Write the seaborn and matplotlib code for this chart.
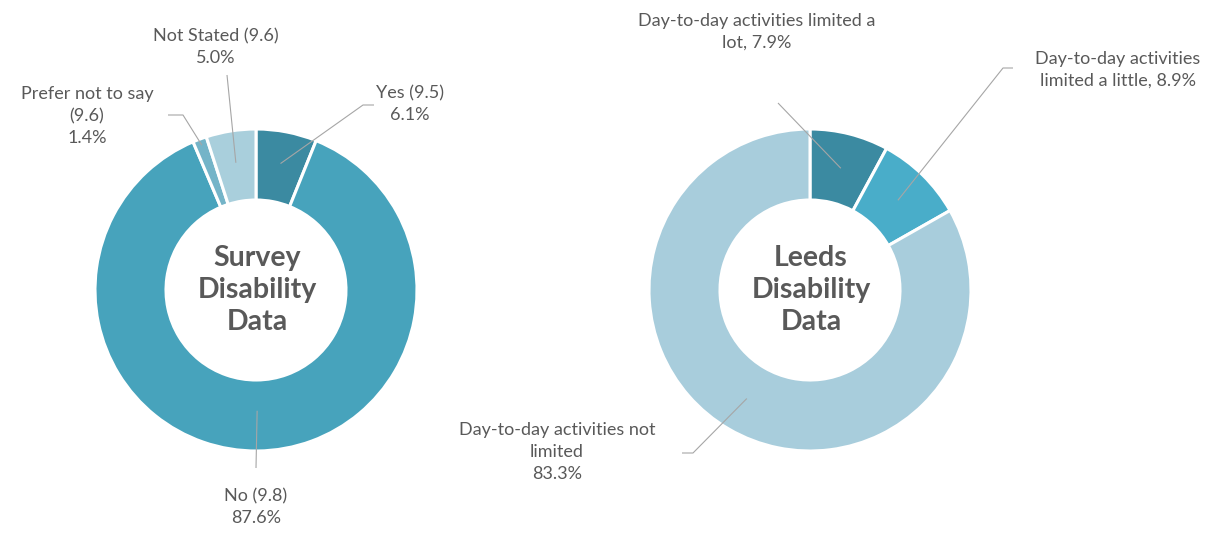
import numpy as np
import matplotlib
matplotlib.use("Agg")
import matplotlib.pyplot as plt
import seaborn as sns

# --- data -------------------------------------------------------------
survey_names = ["Yes (9.5)", "No (9.8)", "Prefer not to say\n(9.6)", "Not Stated (9.6)"]
survey_pct = [6.1, 87.6, 1.4, 5.0]

leeds_names = [
    "Day-to-day activities limited a\nlot, {}%",
    "Day-to-day activities\nlimited a little, {}%",
    "Day-to-day activities not\nlimited\n{}%",
]
leeds_pct = [7.9, 8.9, 83.3]

survey_title = "Survey\nDisability\nData"
leeds_title = "Leeds\nDisability\nData"

# --- style ------------------------------------------------------------
sns.set_theme(style="white")
plt.rcParams["font.family"] = ["Lato", "DejaVu Sans"]

survey_colors = ["#3b8aa1", "#47a3bc", "#74b4c8", "#a9cfdc"]
leeds_colors = ["#3b8aa1", "#49adc9", "#a8cddc"]
text_color = "#595959"
leader_color = "#a6a6a6"

W, H = 1222, 534
fig = plt.figure(figsize=(W / 100, H / 100), dpi=100)
ax = fig.add_axes([0, 0, 1, 1])


def P(x, y):
    """Pixel-style coordinates (origin top-left) to axes data coordinates."""
    return x, H - y


R_OUT = 161
RING = 71


def donut(center, values, colors):
    wedges, _ = ax.pie(
        values, colors=colors, startangle=90, counterclock=False,
        center=P(*center), radius=R_OUT, frame=True,
        wedgeprops=dict(width=RING, edgecolor="white", linewidth=2.2),
    )
    return wedges


def anchor(wedge, r_frac):
    mid = np.deg2rad((wedge.theta1 + wedge.theta2) / 2)
    cx, cy = wedge.center
    r = wedge.r * r_frac
    return cx + r * np.cos(mid), cy + r * np.sin(mid)


def leader(wedge, r_frac, path):
    pts = [anchor(wedge, r_frac)] + [P(*p) for p in path]
    xs, ys = zip(*pts)
    ax.plot(xs, ys, color=leader_color, lw=0.8, solid_capstyle="butt", zorder=5)


def label(x, y, s, **kw):
    ax.text(*P(x, y), s, ha="center", va="center", color=text_color,
            fontsize=13, linespacing=1.45, zorder=6, **kw)


# --- survey donut ------------------------------------------------------
sw = donut((256, 290), survey_pct, survey_colors)
ax.text(*P(257, 290), survey_title, ha="center", va="center", color=text_color,
        fontsize=20.5, fontweight="bold", linespacing=1.28)

leader(sw[0], 0.80, [(363, 105), (374, 105)])
label(410, 104, f"{survey_names[0]}\n{survey_pct[0]:.1f}%")

leader(sw[1], 0.75, [(256, 468)])
label(256, 507, f"{survey_names[1]}\n{survey_pct[1]:.1f}%")

leader(sw[2], 0.96, [(183, 115), (168, 115)])
label(87, 116, f"{survey_names[2]}\n{survey_pct[2]:.1f}%")

leader(sw[3], 0.80, [(227, 75)])
label(216, 47, f"{survey_names[3]}\n{survey_pct[3]:.1f}%")

# --- Leeds donut -------------------------------------------------------
lw_ = donut((810, 290), leeds_pct, leeds_colors)
ax.text(*P(811, 290), leeds_title, ha="center", va="center", color=text_color,
        fontsize=20.5, fontweight="bold", linespacing=1.28)

leader(lw_[0], 0.78, [(778, 103)])
label(757, 32, leeds_names[0].format(leeds_pct[0]))

leader(lw_[1], 0.78, [(1003, 68), (1013, 68)])
label(1118, 70, leeds_names[1].format(leeds_pct[1]))

leader(lw_[2], 0.78, [(693, 453), (682, 453)])
label(557, 452, leeds_names[2].format(leeds_pct[2]))

ax.set_xlim(0, W)
ax.set_ylim(0, H)
ax.set_aspect("equal")
ax.axis("off")

fig.savefig("out.png", dpi=100, facecolor="white")
